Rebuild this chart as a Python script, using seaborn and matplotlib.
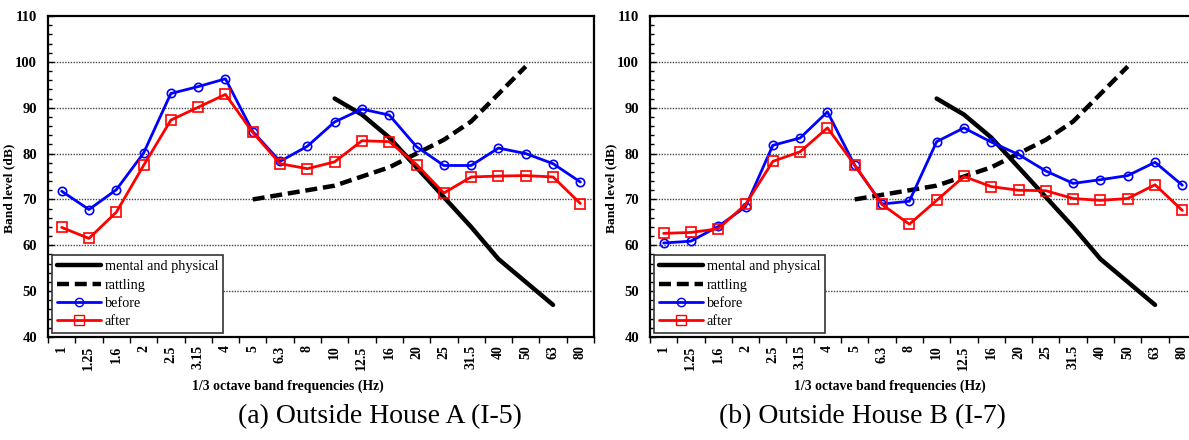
import matplotlib.pyplot as plt
import seaborn as sns
import numpy as np
import pandas as pd
from matplotlib.lines import Line2D

# 1/3 octave band centre frequencies (Hz)
freqs = ['1', '1.25', '1.6', '2', '2.5', '3.15', '4', '5', '6.3', '8',
         '10', '12.5', '16', '20', '25', '31.5', '40', '50', '63', '80']

# reference curves
mental_freqs = ['10', '12.5', '16', '20', '25', '31.5', '40', '50', '63']
mental = [92, 88.5, 83.5, 77, 70.5, 64, 57, 52, 47]
rattling_freqs = ['5', '6.3', '8', '10', '12.5', '16', '20', '25', '31.5', '40', '50']
rattling = [70, 71, 72, 73, 75, 77, 80, 83, 87, 93, 99]

# House A (I-5)
before_a = [71.8, 67.8, 72.1, 80.1, 93.1, 94.6, 96.3, 84.8, 78.3, 81.6,
            86.9, 89.7, 88.4, 81.5, 77.4, 77.4, 81.2, 80.0, 77.8, 73.8]
after_a = [63.9, 61.5, 67.2, 77.4, 87.3, 90.1, 92.9, 84.6, 77.8, 76.7,
           78.2, 82.8, 82.6, 77.6, 71.4, 74.9, 75.1, 75.2, 74.9, 69.1]

# House B (I-7)
before_b = [60.5, 60.9, 64.1, 68.4, 81.8, 83.4, 89.1, 77.4, 69.0, 69.6,
            82.6, 85.6, 82.5, 79.8, 76.2, 73.5, 74.3, 75.2, 78.1, 73.1]
after_b = [62.6, 62.8, 63.6, 68.9, 78.3, 80.4, 85.6, 77.5, 68.9, 64.6,
           69.8, 75.0, 72.8, 72.0, 71.9, 70.2, 69.8, 70.2, 73.2, 67.6]

captions = ['(a) Outside House A (I-5)', '(b) Outside House B (I-7)']

sns.set_theme(style='white')
plt.rcParams['font.family'] = ['Liberation Serif', 'DejaVu Serif']
plt.rcParams['text.color'] = 'black'
plt.rcParams['axes.labelcolor'] = 'black'
plt.rcParams['xtick.color'] = 'black'
plt.rcParams['ytick.color'] = 'black'

pos = {f: i for i, f in enumerate(freqs)}
dash = (0, (2.7, 1.3))


def draw_panel(ax, before, after):
    x = np.arange(len(freqs))
    sns.lineplot(x=[pos[f] for f in mental_freqs], y=mental, ax=ax,
                 color='black', lw=3.2, sort=False)
    sns.lineplot(x=[pos[f] for f in rattling_freqs], y=rattling, ax=ax,
                 color='black', lw=3.2, sort=False, linestyle=dash)
    sns.lineplot(x=x, y=before, ax=ax, color='#0000ff', lw=2, marker='o',
                 ms=6, mfc='none', mec='#0000ff', mew=1.2)
    sns.lineplot(x=x, y=after, ax=ax, color='#ff0000', lw=2, marker='s',
                 ms=6.5, mfc='none', mec='#ff0000', mew=1.2)

    ax.set_xlim(-0.5, len(freqs) - 0.5)
    ax.set_ylim(40, 110)
    ax.set_yticks(np.arange(40, 111, 10))
    ax.set_yticks(np.arange(40, 111, 2), minor=True)
    ax.set_xticks(x)
    ax.set_xticklabels(freqs, rotation=90, fontweight='bold', fontsize=10)
    ax.set_xticks(np.arange(-0.5, len(freqs), 1), minor=True)
    ax.tick_params(axis='x', which='major', length=0, pad=6)
    ax.tick_params(axis='x', which='minor', length=4, width=1,
                   direction='out', bottom=True)
    ax.tick_params(axis='y', which='both', direction='in', left=True, width=1)
    ax.tick_params(axis='y', which='major', length=4, pad=8)
    ax.tick_params(axis='y', which='minor', length=3)
    for lab in ax.get_yticklabels():
        lab.set_fontweight('bold')
        lab.set_fontsize(10.5)
    for y in range(50, 101, 10):
        ax.axhline(y, color='#444444', lw=1, ls=(0, (1, 1)), zorder=0)
    for s in ax.spines.values():
        s.set_color('black')
        s.set_linewidth(1.6)
    ax.set_xlabel('1/3 octave band frequencies (Hz)', fontweight='bold',
                  fontsize=9.9)
    ax.xaxis.set_label_coords(0.44, -0.133)
    ax.set_ylabel('Band level (dB)', fontweight='bold', fontsize=9.7)
    ax.yaxis.set_label_coords(-0.06, 0.464)

    handles = [
        Line2D([], [], color='black', lw=3.2),
        Line2D([], [], color='black', lw=3.2, ls=dash),
        Line2D([], [], color='#0000ff', lw=2, marker='o', ms=6, mfc='none'),
        Line2D([], [], color='#ff0000', lw=2, marker='s', ms=6.5, mfc='none'),
    ]
    leg = ax.legend(handles, ['mental and physical', 'rattling', 'before', 'after'],
                    loc='lower left', fontsize=10.3, handlelength=3.1,
                    handletextpad=0.25, labelspacing=0.38, borderpad=0.35,
                    fancybox=False, framealpha=1, borderaxespad=0.25)
    leg.get_frame().set_edgecolor('#333333')
    leg.get_frame().set_linewidth(1.2)


fig = plt.figure(figsize=(11.89, 4.4), dpi=100)
ax1 = fig.add_axes([48 / 1189, 1 - 337 / 440, 546 / 1189, 321 / 440])
ax2 = fig.add_axes([650 / 1189, 1 - 337 / 440, 546 / 1189, 321 / 440])

draw_panel(ax1, before_a, after_a)
draw_panel(ax2, before_b, after_b)

fig.text(380 / 1189, 1 - 417 / 440, captions[0], ha='center', va='center',
         fontsize=20)
fig.text(862 / 1189, 1 - 417 / 440, captions[1], ha='center', va='center',
         fontsize=20)

fig.savefig('out.png', dpi=100)
